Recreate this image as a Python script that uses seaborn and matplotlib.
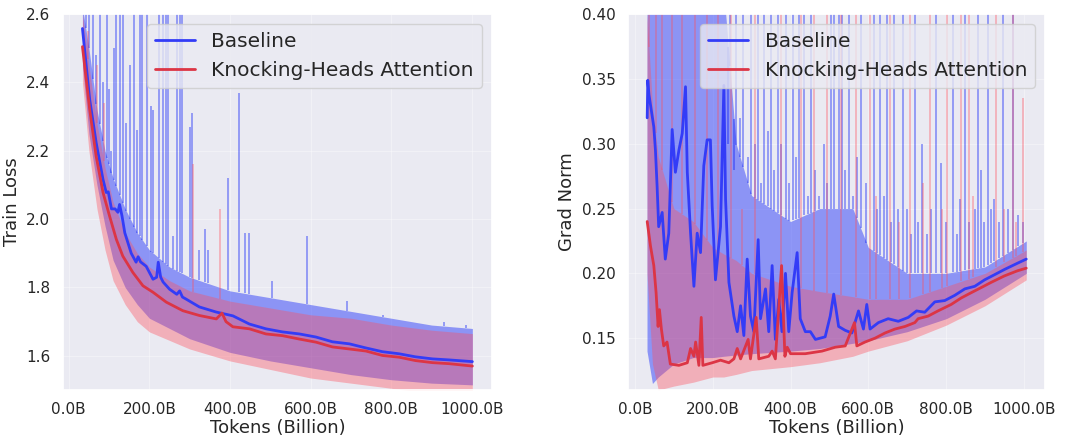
import numpy as np
import pandas as pd
import matplotlib
matplotlib.use("Agg")
import matplotlib.pyplot as plt
import seaborn as sns
from matplotlib.ticker import FuncFormatter, MultipleLocator

# ---------------- data ----------------
# Left panel: train loss, smoothed curves
loss_base_x = [34, 52, 68, 85, 93, 98, 106, 115, 122, 126, 132, 139, 155, 167, 172, 178, 192, 209,
               218, 222, 228, 234, 250, 268, 275, 282, 291, 324, 366, 407, 448, 489, 530, 572,
               613, 654, 696, 737, 778, 819, 860, 902, 943, 1001]
loss_base_y = [2.558, 2.35, 2.224, 2.116, 2.078, 2.08, 2.03, 2.03, 2.02, 2.043, 2.01, 1.96, 1.90,
               1.874, 1.89, 1.875, 1.862, 1.824, 1.83, 1.874, 1.83, 1.816, 1.795, 1.78, 1.79, 1.772,
               1.766, 1.743, 1.728, 1.717, 1.693, 1.679, 1.67, 1.664, 1.655, 1.641, 1.635, 1.623,
               1.612, 1.606, 1.597, 1.591, 1.588, 1.583]
loss_kha_x = [34, 52, 68, 85, 101, 118, 134, 159, 184, 209, 242, 283, 324, 366, 380, 390, 407, 448,
              489, 530, 572, 613, 654, 696, 737, 778, 819, 860, 902, 943, 1001]
loss_kha_y = [2.505, 2.32, 2.184, 2.078, 2.01, 1.941, 1.892, 1.844, 1.805, 1.786, 1.757, 1.732,
              1.718, 1.708, 1.725, 1.70, 1.685, 1.679, 1.664, 1.659, 1.649, 1.64, 1.626, 1.62,
              1.614, 1.601, 1.596, 1.586, 1.58, 1.577, 1.570]
# raw-curve envelopes (left)
loss_band_x = [34, 50, 70, 90, 110, 140, 170, 200, 250, 300, 400, 500, 600, 700, 800, 900, 1001]
loss_base_hi = [2.62, 2.5, 2.32, 2.2, 2.12, 2.03, 1.96, 1.91, 1.86, 1.83, 1.79, 1.77, 1.75, 1.73, 1.71, 1.69, 1.68]
loss_base_lo = [2.45, 2.25, 2.1, 1.98, 1.88, 1.80, 1.75, 1.71, 1.68, 1.65, 1.61, 1.585, 1.565, 1.545, 1.53, 1.52, 1.515]
loss_kha_hi = [2.6, 2.45, 2.28, 2.15, 2.05, 1.96, 1.9, 1.86, 1.82, 1.79, 1.76, 1.74, 1.72, 1.71, 1.69, 1.675, 1.665]
loss_kha_lo = [2.4, 2.2, 2.03, 1.91, 1.82, 1.75, 1.70, 1.67, 1.645, 1.62, 1.585, 1.56, 1.535, 1.52, 1.505, 1.49, 1.49]
# spikes of the raw curves (left)
loss_base_spike_x = [42, 50, 60, 68, 77, 85, 95, 100, 106, 112, 118, 126, 134, 143, 153, 163, 170, 176,
                     182, 194, 205, 210, 223, 234, 242, 246, 258, 268, 275, 281, 300, 306, 323, 338,
                     345, 394, 421, 438, 446, 504, 590, 690, 780, 930, 985]
loss_base_spike_top = [2.7, 2.7, 2.7, 2.48, 2.7, 2.4, 2.7, 2.38, 2.2, 2.5, 2.7, 2.7, 2.7, 2.28, 2.45,
                       2.7, 2.26, 2.7, 2.7, 2.7, 2.33, 2.32, 2.7, 2.7, 2.7, 2.7, 1.95, 2.7, 2.7, 2.7,
                       2.27, 2.31, 1.91, 1.97, 1.91, 2.12, 2.37, 1.96, 1.96, 1.82, 1.95, 1.76, 1.72,
                       1.70, 1.69]
loss_kha_spike_x = [48, 70, 87, 308, 375]
loss_kha_spike_top = [2.55, 2.45, 2.34, 2.16, 2.03]

# Right panel: grad norm, smoothed curves
gn_base_x = [31.5, 33, 36, 48.5, 52.7, 57, 61, 70, 78, 87, 95.7, 104, 113, 121.6, 130, 134.6, 143,
             151.6, 160, 168.6, 177, 185.6, 194, 198.6, 207, 220, 228.6, 233, 241.6, 254.4, 263,
             271.6, 280, 288.6, 297, 305.7, 316.8, 322.8, 335.6, 344, 352.7, 361, 369.9, 378, 387,
             395.4, 404, 417, 425, 438, 451, 464, 489, 502, 511, 523.6, 540.6, 557.7, 574.7, 587.4,
             596, 604.4, 626, 651, 677, 702.6, 724, 745, 771, 796.5, 822, 848, 873.6, 899, 924.7,
             950, 984.7, 1006]
gn_base_y = [0.32, 0.349, 0.338, 0.313, 0.295, 0.267, 0.236, 0.247, 0.211, 0.231, 0.311, 0.278,
             0.295, 0.308, 0.344, 0.278, 0.231, 0.19, 0.231, 0.216, 0.283, 0.303, 0.303, 0.252,
             0.195, 0.236, 0.345, 0.257, 0.193, 0.167, 0.155, 0.175, 0.152, 0.211, 0.167, 0.155,
             0.226, 0.165, 0.188, 0.155, 0.206, 0.149, 0.18, 0.155, 0.20, 0.155, 0.185, 0.216,
             0.165, 0.155, 0.155, 0.149, 0.151, 0.167, 0.184, 0.159, 0.156, 0.154, 0.171, 0.157,
             0.176, 0.157, 0.162, 0.165, 0.163, 0.166, 0.171, 0.170, 0.178, 0.179, 0.183, 0.188,
             0.19, 0.195, 0.199, 0.203, 0.208, 0.211]
gn_kha_x = [31.5, 40, 48.5, 54.4, 59.5, 63, 68, 74, 82.5, 91, 113, 134.6, 143, 151.6, 156, 164.4,
            170.4, 174.6, 198.6, 220, 241.6, 254.4, 263, 271.6, 291, 297, 311.6, 318.4, 344, 352.7,
            361, 377, 385.5, 391.5, 400, 438, 481, 515, 540.6, 564.4, 570.4, 591.6, 617.3, 643,
            668.4, 694, 719.6, 728, 753.6, 779, 813, 838.7, 864, 890, 915.5, 949.6, 983.6, 1006]
gn_kha_y = [0.240, 0.221, 0.206, 0.185, 0.159, 0.172, 0.157, 0.144, 0.147, 0.13, 0.129, 0.131,
            0.142, 0.136, 0.147, 0.129, 0.166, 0.129, 0.131, 0.133, 0.131, 0.134, 0.142, 0.134,
            0.149, 0.134, 0.166, 0.134, 0.136, 0.14, 0.134, 0.206, 0.136, 0.143, 0.138, 0.138,
            0.14, 0.143, 0.144, 0.162, 0.144, 0.147, 0.150, 0.154, 0.157, 0.159, 0.162, 0.165,
            0.167, 0.171, 0.176, 0.181, 0.185, 0.189, 0.193, 0.198, 0.202, 0.204]
# raw-curve envelopes (right)
gn_band_x = [31, 45, 60, 100, 150, 200, 228, 260, 300, 400, 475, 560, 600, 700, 800, 900, 1006]
gn_base_hi = [0.42, 0.42, 0.42, 0.42, 0.42, 0.42, 0.42, 0.30, 0.26, 0.24, 0.25, 0.25, 0.22, 0.20, 0.20, 0.205, 0.225]
gn_base_lo = [0.14, 0.115, 0.12, 0.13, 0.135, 0.135, 0.136, 0.137, 0.138, 0.14, 0.142, 0.146, 0.148, 0.155, 0.165, 0.18, 0.20]
gn_kha_hi = [0.40, 0.33, 0.29, 0.25, 0.24, 0.22, 0.215, 0.21, 0.20, 0.19, 0.186, 0.182, 0.18, 0.18, 0.19, 0.20, 0.218]
gn_kha_lo = [0.20, 0.13, 0.11, 0.113, 0.116, 0.12, 0.12, 0.122, 0.125, 0.128, 0.131, 0.136, 0.14, 0.148, 0.16, 0.175, 0.195]
# spikes of the raw curves (right)
gn_base_spike_x = [227, 240, 244, 255, 261, 270, 278, 290, 299, 308, 316, 325, 333, 342, 350, 358,
                   367, 375, 389, 397, 406, 415, 423, 435, 444, 452, 462, 474, 485, 495, 503, 512,
                   525, 533, 540, 550, 560, 570, 580, 595, 614, 622, 631, 640, 648, 657, 665, 675,
                   690, 699, 710, 720, 728, 737, 750, 762, 775, 788, 800, 818, 828, 835, 848, 860,
                   873, 882, 890, 898, 907, 915, 924, 935, 946, 958, 971, 985, 997]
gn_base_spike_top = [0.42, 0.30, 0.42, 0.28, 0.42, 0.32, 0.42, 0.29, 0.42, 0.30, 0.42, 0.27, 0.42,
                     0.31, 0.42, 0.28, 0.42, 0.30, 0.42, 0.27, 0.42, 0.29, 0.42, 0.42, 0.26, 0.42,
                     0.28, 0.26, 0.30, 0.27, 0.42, 0.42, 0.42, 0.42, 0.28, 0.42, 0.26, 0.29, 0.42,
                     0.27, 0.42, 0.25, 0.42, 0.26, 0.42, 0.24, 0.42, 0.25, 0.42, 0.25, 0.23, 0.42,
                     0.24, 0.30, 0.23, 0.25, 0.42, 0.285, 0.24, 0.42, 0.23, 0.257, 0.42, 0.24, 0.25,
                     0.42, 0.28, 0.24, 0.42, 0.25, 0.257, 0.24, 0.42, 0.25, 0.42, 0.245, 0.24]
gn_kha_spike_x = [36, 53, 70, 95, 121, 155, 185, 214, 248, 274, 308, 376, 427, 461, 495, 529, 567,
                  605, 620, 656, 680, 707, 740, 758, 790, 801, 839, 860, 870, 929, 950, 971, 980, 997]
gn_kha_spike_top = [0.42, 0.42, 0.42, 0.42, 0.42, 0.42, 0.42, 0.42, 0.42, 0.25, 0.42, 0.42, 0.42,
                    0.42, 0.42, 0.42, 0.42, 0.42, 0.26, 0.42, 0.24, 0.42, 0.27, 0.42, 0.25, 0.42,
                    0.42, 0.42, 0.26, 0.42, 0.25, 0.42, 0.24, 0.335]

x_ticks = [0, 200, 400, 600, 800, 1000]
labels = ["Baseline", "Knocking-Heads Attention"]

# ---------------- style ----------------
sns.set_theme(style="darkgrid", rc={"grid.alpha": 0.35, "grid.linewidth": 0.8})
plt.rcParams['font.family'] = ['DejaVu Sans']

LINE_BLUE = "#333cf7"
LINE_RED = "#dc3545"
BAND_BLUE = "#0014fa"
BAND_RED = "#ff4f5c"
A_BLUE = 0.40
A_RED = 0.38

fig = plt.figure(figsize=(10.67, 4.37), dpi=100)
ax1 = fig.add_axes([0.059, 0.1076, 0.402, 0.860])
ax2 = fig.add_axes([0.5886, 0.1076, 0.391, 0.860])


def panel(ax, bx, b_lo, b_hi, r_lo, r_hi, bsx, bst, rsx, rst,
          lx_b, ly_b, lx_r, ly_r, ylim, ylabel, ystep):
    bx = np.asarray(bx, float)
    ax.fill_between(bx, b_lo, b_hi, color=BAND_BLUE, alpha=A_BLUE, lw=0)
    ax.vlines(bsx, np.interp(bsx, bx, b_hi), bst, color=BAND_BLUE, alpha=A_BLUE, lw=1.3)
    ax.fill_between(bx, r_lo, r_hi, color=BAND_RED, alpha=A_RED, lw=0)
    ax.vlines(rsx, np.interp(rsx, bx, r_hi), rst, color=BAND_RED, alpha=A_RED, lw=1.3)
    df_b = pd.DataFrame({"Tokens": lx_b, "v": ly_b})
    df_r = pd.DataFrame({"Tokens": lx_r, "v": ly_r})
    sns.lineplot(data=df_b, x="Tokens", y="v", ax=ax, color=LINE_BLUE, lw=2.0,
                 label=labels[0], sort=False)
    sns.lineplot(data=df_r, x="Tokens", y="v", ax=ax, color=LINE_RED, lw=2.0,
                 label=labels[1], sort=False)
    ax.set_ylim(*ylim)
    ax.yaxis.set_major_locator(MultipleLocator(ystep))
    ax.set_xticks(x_ticks)
    ax.xaxis.set_major_formatter(FuncFormatter(lambda v, p: f"{v:.1f}B"))
    ax.set_xlabel("Tokens (Billion)", fontsize=13, labelpad=1)
    ax.set_ylabel(ylabel, fontsize=13)
    ax.tick_params(labelsize=11, pad=3)
    ax.legend(loc="upper right", fontsize=14.5)


panel(ax1, loss_band_x, loss_base_lo, loss_base_hi, loss_kha_lo, loss_kha_hi,
      loss_base_spike_x, loss_base_spike_top, loss_kha_spike_x, loss_kha_spike_top,
      loss_base_x, loss_base_y, loss_kha_x, loss_kha_y, (1.5, 2.6), "Train Loss", 0.2)
panel(ax2, gn_band_x, gn_base_lo, gn_base_hi, gn_kha_lo, gn_kha_hi,
      gn_base_spike_x, gn_base_spike_top, gn_kha_spike_x, gn_kha_spike_top,
      gn_base_x, gn_base_y, gn_kha_x, gn_kha_y, (0.11, 0.40), "Grad Norm", 0.05)
ax2.yaxis.set_major_formatter(FuncFormatter(lambda v, p: f"{v:.2f}"))

fig.savefig("out.png", dpi=100)
